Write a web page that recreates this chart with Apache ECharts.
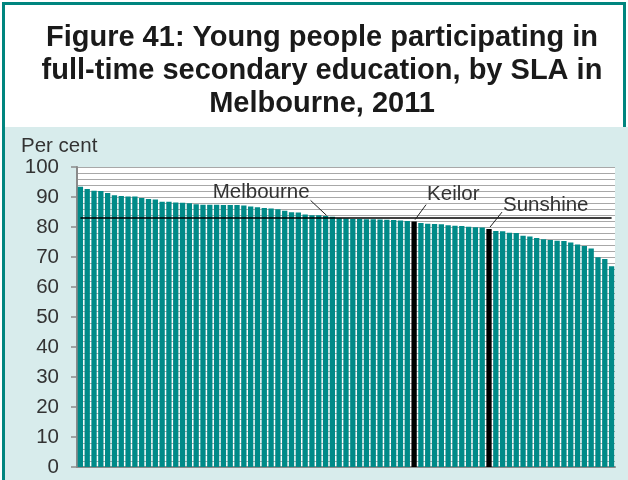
<!DOCTYPE html>
<html>
<head>
<meta charset="utf-8">
<script src="https://cdn.jsdelivr.net/npm/echarts@6/dist/echarts.min.js"></script>
<style>
html, body { margin: 0; padding: 0; background: #fff; }
#main { width: 628px; height: 480px; }
</style>
</head>
<body>
<div id="main"></div>
<script>
// per cent of young people in full-time secondary education, SLAs sorted high to low
var values = [
  93.4, 92.7, 92.1, 92.0, 91.3, 90.6, 90.3, 90.2, 90.2, 89.7,
  89.3, 89.2, 88.4, 88.4, 88.2, 88.1, 87.9, 87.6, 87.4, 87.4,
  87.4, 87.3, 87.3, 87.3, 87.2, 86.8, 86.6, 86.3, 86.2, 85.9,
  85.4, 84.9, 84.8, 84.2, 83.9, 83.9, 83.7, 83.4, 82.9, 82.8,
  82.7, 82.7, 82.6, 82.6, 82.5, 82.4, 82.3, 82.2, 82.0, 81.8,
  81.3, 81.1, 81.0, 80.9, 80.6, 80.4, 80.3, 80.1, 79.9, 79.8,
  79.3, 78.7, 78.6, 78.1, 78.0, 77.1, 76.8, 76.3, 75.9, 75.7,
  75.4, 75.3, 74.8, 74.2, 73.7, 72.8, 69.9, 69.3, 66.9
];
var highlightNames = ['Keilor', 'Sunshine'];
var highlightIndex = [49, 60];
var melbourneAvg = 83.2;
var yTicks = [0, 10, 20, 30, 40, 50, 60, 70, 80, 90, 100];

var categories = values.map(function (v, i) {
  var h = highlightIndex.indexOf(i);
  return h >= 0 ? highlightNames[h] : 'SLA ' + (i + 1);
});

var teal = '#008a88';
var border = '#00857f';
var font = '"Liberation Sans", Arial, sans-serif';

var chart = echarts.init(document.getElementById('main'));

var option = {
  animation: false,
  backgroundColor: '#fff',
  grid: {
    left: 77, right: 13, top: 167, bottom: 13,
    show: true, backgroundColor: '#fff', borderWidth: 0
  },
  xAxis: {
    type: 'category',
    data: categories,
    axisLine: { show: true, lineStyle: { color: '#8a8a8a', width: 2 } },
    axisTick: { show: false },
    axisLabel: { show: false },
    splitLine: { show: false }
  },
  yAxis: {
    type: 'value',
    min: yTicks[0],
    max: yTicks[yTicks.length - 1],
    interval: 10,
    axisLine: { show: true, lineStyle: { color: '#8a8a8a', width: 2 } },
    axisTick: { show: true, length: 6, lineStyle: { color: '#8a8a8a', width: 1.5 } },
    axisLabel: { color: '#333', fontSize: 20.5, fontFamily: font, margin: 18 },
    splitLine: { show: true, lineStyle: { color: '#a8a8a8', width: 1 } },
    minorTick: { show: false, splitNumber: 5 },
    minorSplitLine: { show: true, lineStyle: { color: '#a8a8a8', width: 1 } }
  },
  series: [{
    type: 'bar',
    data: values.map(function (v, i) {
      return {
        value: v,
        itemStyle: { color: highlightIndex.indexOf(i) >= 0 ? '#000' : teal }
      };
    }),
    barCategoryGap: '22%',
    markLine: {
      silent: true,
      symbol: ['none', 'none'],
      label: { show: false },
      lineStyle: { color: '#000', width: 1.5, type: 'solid' },
      data: [[
        { xAxis: 0, yAxis: melbourneAvg },
        { xAxis: values.length - 1, yAxis: melbourneAvg }
      ]]
    }
  }],
  graphic: [
    { id: 'lowerBg', type: 'rect', z: -10, shape: { x: 5, y: 127, width: 623, height: 353 }, style: { fill: '#d8ecec' } },
    { id: 'bLeft', type: 'rect', z: 5, shape: { x: 2, y: 2, width: 3, height: 478 }, style: { fill: border } },
    { id: 'bTop', type: 'rect', z: 5, shape: { x: 2, y: 2, width: 624, height: 3 }, style: { fill: border } },
    { id: 'bRight', type: 'rect', z: 5, shape: { x: 623, y: 2, width: 3, height: 125 }, style: { fill: border } },
    {
      id: 'title', type: 'text', z: 10, x: 322, y: 21,
      style: {
        text: 'Figure 41: Young people participating in\nfull-time secondary education, by SLA in\nMelbourne, 2011',
        fill: '#1a1a1a', font: 'bold 29px ' + font, lineHeight: 33,
        align: 'center', verticalAlign: 'top'
      }
    },
    {
      id: 'unit', type: 'text', z: 10, x: 21, y: 146,
      style: { text: 'Per cent', fill: '#333', font: '20.5px ' + font, align: 'left', verticalAlign: 'middle' }
    }
  ]
};
chart.setOption(option);

// labels with leader lines for Melbourne average, Keilor and Sunshine
var notes = [
  { text: 'Melbourne', idx: 36, val: melbourneAvg, dx: -15, dy: -25 },
  { text: 'Keilor', idx: highlightIndex[0], val: values[highlightIndex[0]], dx: 12, dy: -27 },
  { text: 'Sunshine', idx: highlightIndex[1], val: values[highlightIndex[1]], dx: 13, dy: -24 }
];
var extra = [];
notes.forEach(function (n, k) {
  var p = chart.convertToPixel({ gridIndex: 0 }, [n.idx, n.val]);
  extra.push({
    id: 'lead' + k, type: 'line', z: 20,
    shape: { x1: p[0] + 1, y1: p[1] - 2, x2: p[0] + n.dx, y2: p[1] - 17 },
    style: { stroke: '#222', lineWidth: 1 }
  });
  extra.push({
    id: 'note' + k, type: 'text', z: 20,
    x: p[0] + n.dx + (n.dx < 0 ? -1 : 1), y: p[1] + n.dy,
    style: {
      text: n.text, fill: '#333', font: '20.5px ' + font,
      align: n.dx < 0 ? 'right' : 'left', verticalAlign: 'middle'
    }
  });
});
chart.setOption({ graphic: extra });
</script>
</body>
</html>
